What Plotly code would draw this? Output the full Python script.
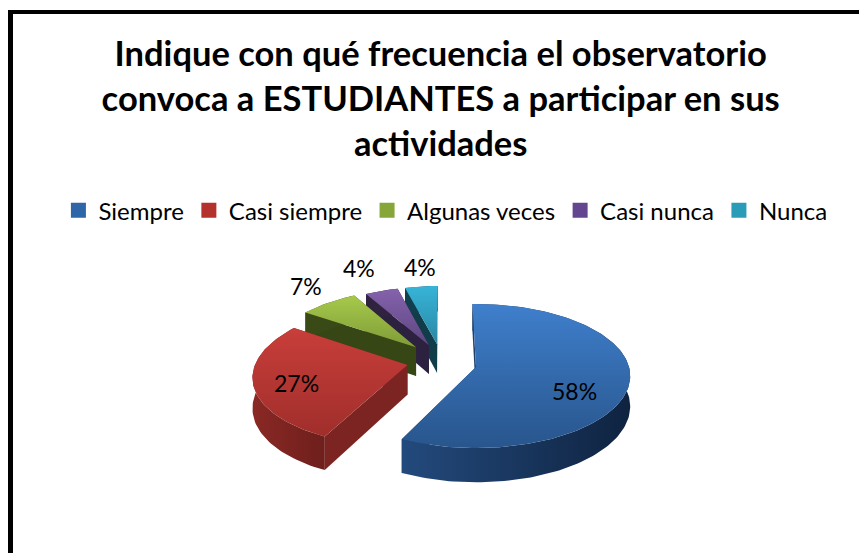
import math
import plotly.graph_objects as go

categories = ["Siempre", "Casi siempre", "Algunas veces", "Casi nunca", "Nunca"]
percent_values = [57.5, 27.4, 7.1, 4.0, 4.0]
label_text = ["58%", "27%", "7%", "4%", "4%"]
title_lines = ["Indique con qué frecuencia el observatorio",
               "convoca a ESTUDIANTES a participar en sus",
               "actividades"]

# styling
legend_colors = ["#2f66a8", "#b5312e", "#86a63a", "#63468f", "#2a9cb8"]
top_grad = [("#28558c", "#3f7fcc"), ("#a02e2b", "#c83e3a"), ("#7f9c38", "#a6c94b"),
            ("#5d4680", "#8562ad"), ("#2a87a3", "#37b4d8")]
arc_grad = [("#234a7d", "#0f2340"), ("#8a2825", "#6e1f1c"), ("#3a4a16", "#3a4a16"),
            ("#2f2340", "#2f2340"), ("#123f4e", "#123f4e")]
cut_color = ["#1d3f6c", "#7c2421", "#374615", "#2d2140", "#113c4a"]
explode = [(0.0, 0.0), (-0.45, -0.03), (-0.406, -0.29), (-0.32, -0.32), (-0.265, -0.335)]
label_r = [0.65, 0.62, 1.2, 1.2, 1.2]
label_shift = [(0, 14), (-16, 6), (-6, -9), (-14, -13), (1, -9)]
CX, CY, A, B, K, H = 476, 367, 153, 70.9, 0.125, 30
ROT = -1.5


def project(u, v):
    w = 1 - K * v
    return CX + A * u / w, CY + B * v / w, w


fig = go.Figure()


def polygon(xs, ys, color=None, grad=None, gtype="vertical"):
    kw = dict(fillcolor=color) if color else dict(
        fillgradient=dict(type=gtype, colorscale=[[0, grad[0]], [1, grad[1]]]))
    fig.add_trace(go.Scatter(x=xs, y=ys, mode="lines", fill="toself", line=dict(width=0),
                             showlegend=False, hoverinfo="skip", **kw))


total = sum(percent_values)
start = 0.0
wedges = []
for i, val in enumerate(percent_values):
    end = start + val / total * 360
    wedges.append((i, start + ROT, end + ROT))
    start = end

annots = []
for i, a0, a1 in reversed(wedges):
    eu, ev = explode[i]
    n = max(4, int((a1 - a0) / 1.5))
    arc = []
    for j in range(n + 1):
        t = math.radians(a0 + (a1 - a0) * j / n)
        arc.append(project(eu + math.sin(t), ev - math.cos(t)))
    ax, ay, aw = project(eu, ev)
    first, last = arc[0], arc[-1]
    for p in (first, last):
        polygon([ax, p[0], p[0], ax], [ay, p[1], p[1] + H / p[2], ay + H / aw], color=cut_color[i])
    wx = [p[0] for p in arc] + [p[0] for p in reversed(arc)]
    wy = [p[1] for p in arc] + [p[1] + H / p[2] for p in reversed(arc)]
    polygon(wx, wy, grad=arc_grad[i], gtype="horizontal")
    polygon([ax] + [p[0] for p in arc], [ay] + [p[1] for p in arc], grad=top_grad[i])

for i, a0, a1 in wedges:
    eu, ev = explode[i]
    t = math.radians((a0 + a1) / 2)
    lx, ly, _ = project(eu + label_r[i] * math.sin(t), ev - label_r[i] * math.cos(t))
    annots.append(dict(x=lx, y=ly, text=label_text[i], showarrow=False,
                       xshift=label_shift[i][0], yshift=-label_shift[i][1],
                       font=dict(family="Lato", size=23, color="black")))

for name, col in zip(categories, legend_colors):
    fig.add_trace(go.Scatter(x=[None], y=[None], mode="markers", name=name,
                             marker=dict(symbol="square", size=15, color=col)))

fig.update_layout(
    width=859, height=553, margin=dict(l=0, r=0, t=0, b=0),
    paper_bgcolor="white", plot_bgcolor="white",
    title=dict(text="<br>".join(title_lines), x=0.513, xanchor="center", y=0.88, yanchor="top",
               font=dict(family="Lato", size=34.5, color="black", weight="bold")),
    xaxis=dict(range=[0, 859], visible=False, fixedrange=True),
    yaxis=dict(range=[553, 0], visible=False, fixedrange=True),
    legend=dict(orientation="h", x=0.068, xanchor="left", y=0.619, yanchor="middle",
                font=dict(family="Lato", size=24, color="black"),
                itemwidth=30, tracegroupgap=0, bgcolor="rgba(0,0,0,0)"),
    annotations=annots,
    shapes=[
        dict(type="rect", xref="paper", yref="paper", x0=8 / 859, x1=13 / 859, y0=0, y1=1 - 10 / 553,
             fillcolor="black", line=dict(width=0)),
        dict(type="rect", xref="paper", yref="paper", x0=8 / 859, x1=1, y0=1 - 14 / 553, y1=1 - 10 / 553,
             fillcolor="black", line=dict(width=0)),
    ],
)
fig.write_html("out.html", config={"displayModeBar": False},
               post_script="document.body.style.margin='0';")
